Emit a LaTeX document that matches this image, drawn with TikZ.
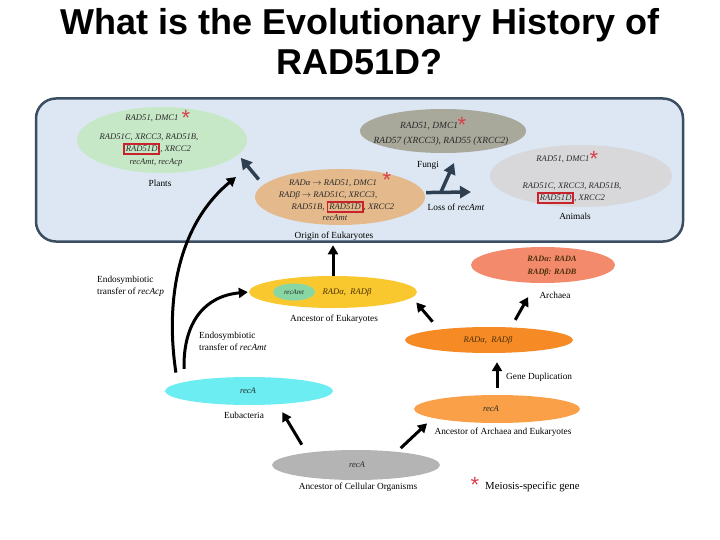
\documentclass[tikz,border=0pt]{standalone}
\usepackage{fontspec}
\setmainfont{Liberation Serif}
\newfontfamily\titlefont{Liberation Sans}
\usetikzlibrary{shapes.geometric,arrows.meta}
\definecolor{boxfill}{HTML}{DCE7F3}
\definecolor{boxline}{HTML}{3B4D61}
\definecolor{plantc}{HTML}{C6E8C6}
\definecolor{fungic}{HTML}{A8A89B}
\definecolor{animc}{HTML}{D8D8DA}
\definecolor{tanc}{HTML}{E4B98C}
\definecolor{yelc}{HTML}{F8C82E}
\definecolor{mintc}{HTML}{88D6A4}
\definecolor{salc}{HTML}{F38A6B}
\definecolor{orc}{HTML}{F68B25}
\definecolor{lorc}{HTML}{F9A048}
\definecolor{cyanc}{HTML}{6CEDF2}
\definecolor{cellc}{HTML}{B4B4B4}
\definecolor{slate}{HTML}{2F3F52}
\definecolor{rboxc}{HTML}{C8232C}
\definecolor{starc}{HTML}{D8404C}
\definecolor{genec}{HTML}{2A2A2A}
\definecolor{brownc}{HTML}{4A300A}
\newcommand\redbox[1]{{\setlength\fboxsep{1pt}\setlength\fboxrule{1.8pt}\color{rboxc}\fbox{\color{genec}#1}}}
\begin{document}
\begin{tikzpicture}[x=1pt,y=-1pt,
  ell/.style={shape=ellipse, inner sep=0pt, draw=none},
  gene/.style={font=\fontsize{8.6}{10}\selectfont\itshape, text=genec, inner sep=0pt},
  lab/.style={font=\fontsize{9.3}{12}\selectfont, text=black, inner sep=0pt},
  star/.style={font=\titlefont\fontsize{22}{22}\selectfont, text=starc, inner sep=0pt},
  arr/.style={draw=black, line width=3pt, -{Triangle[length=9pt,width=10pt]}},
  sarr/.style={draw=slate, line width=3.5pt, -{Triangle[length=11pt,width=12pt]}}]
\useasboundingbox (0,0) rectangle (720,540);
% title
\node[font=\titlefont\bfseries\fontsize{36}{40}\selectfont, align=center, inner sep=0pt] (title) at (360,42) {What is the Evolutionary History of\\RAD51D?};
% blue box
\node[draw=boxline, line width=2.5pt, fill=boxfill, rounded corners=20pt, minimum width=647pt, minimum height=143pt, inner sep=0pt] (box) at (359.5,170) {};
% ellipses
\node[ell, fill=plantc, minimum width=170pt, minimum height=66pt] (plants) at (162,140) {};
\node[ell, fill=fungic, minimum width=166pt, minimum height=44pt] (fungi) at (443,131) {};
\node[ell, fill=animc, minimum width=182pt, minimum height=62pt] (animals) at (581,176) {};
\node[ell, fill=tanc, minimum width=170pt, minimum height=56pt] (euk) at (340,197) {};
\node[ell, fill=yelc, minimum width=168pt, minimum height=32pt] (yellow) at (333,292) {};
\node[ell, fill=mintc, minimum width=42pt, minimum height=17pt] (mint) at (294,292) {};
\node[ell, fill=salc, minimum width=144pt, minimum height=36pt] (archaea) at (543,265) {};
\node[ell, fill=orc, minimum width=168pt, minimum height=26pt] (radab) at (489,340) {};
\node[ell, fill=lorc, minimum width=166pt, minimum height=28pt] (anc) at (497,409) {};
\node[ell, fill=cyanc, minimum width=168pt, minimum height=28pt] (eubac) at (249,391) {};
\node[ell, fill=cellc, minimum width=168pt, minimum height=30pt] (cell) at (356,465) {};
% plants text
\node[gene] (pl1) at (152,118) {RAD51, DMC1};
\node[star] (pls) at (186,118) {*};
\node[gene] (pl2) at (149,137) {RAD51C, XRCC3, RAD51B,};
\node[gene] (pl3) at (157,149) {\redbox{RAD51D}, XRCC2};
\node[gene] (pl4) at (156,163) {recAmt, recAcp};
\node[lab] (pll) at (160,183) {Plants};
% fungi text
\node[gene, font=\fontsize{9.4}{11}\selectfont\itshape] (fu1) at (429,126) {RAD51, DMC1};
\node[star] (fus) at (462,125) {*};
\node[gene, font=\fontsize{9.4}{11}\selectfont\itshape] (fu2) at (441,141) {RAD57 (XRCC3), RAD55 (XRCC2)};
\node[lab] (ful) at (428,165) {Fungi};
% animals text
\node[gene] (an1) at (563,159) {RAD51, DMC1};
\node[star] (ans) at (594,159) {*};
\node[gene] (an2) at (572,186) {RAD51C, XRCC3, RAD51B,};
\node[gene] (an3) at (571,198) {\redbox{RAD51D}, XRCC2};
\node[lab] (anl) at (575,216) {Animals};
% eukaryote origin text
\node[gene] (eu1) at (333,183) {RADα $\rightarrow$ RAD51, DMC1};
\node[star] (eus) at (387,180) {*};
\node[gene] (eu2) at (328,195) {RADβ $\rightarrow$ RAD51C, XRCC3,};
\node[gene] (eu3) at (343,207) {RAD51B, \redbox{RAD51D}, XRCC2};
\node[gene] (eu4) at (335,218) {recAmt};
\node[lab] (eul) at (334,236) {Origin of Eukaryotes};
% ancestor of eukaryotes
\node[gene, font=\fontsize{7}{8}\selectfont\itshape] (mintt) at (294,292) {recAmt};
\node[gene, text=brownc] (yelt) at (347,292) {RADα,\ \ RADβ};
\node[lab] (yell) at (334,319) {Ancestor of Eukaryotes};
% archaea
\node[gene, font=\fontsize{8.2}{10}\selectfont\bfseries\itshape, text=brownc] (ar1) at (552,259) {RADα: RADA};
\node[gene, font=\fontsize{8.2}{10}\selectfont\bfseries\itshape, text=brownc] (ar2) at (552,272) {RADβ: RADB};
\node[lab] (arl) at (555,295) {Archaea};
% RAD alpha beta
\node[gene, text=brownc] (rat) at (488,340) {RADα,\ \ RADβ};
\node[lab, anchor=west] (gd) at (506,377) {Gene Duplication};
% ancestor of archaea and eukaryotes
\node[gene] (anct) at (491,409) {recA};
\node[lab] (ancl) at (503,432) {Ancestor of Archaea and Eukaryotes};
% eubacteria
\node[gene] (eubt) at (248,391) {recA};
\node[lab] (eubl) at (244,415) {Eubacteria};
% cellular ancestor
\node[gene] (cellt) at (357,465) {recA};
\node[lab] (celll) at (358,487) {Ancestor of Cellular Organisms};
% legend
\node[star] (legs) at (475,485) {*};
\node[lab, anchor=west, font=\fontsize{10.8}{12}\selectfont] (legt) at (485,487) {Meiosis-specific gene};
% side labels
\node[lab, anchor=west, align=left] (endo1) at (97,286) {Endosymbiotic\\transfer of \textit{recAcp}};
\node[lab, anchor=west, align=left] (endo2) at (199,341) {Endosymbiotic\\transfer of \textit{recAmt}};
\node[lab] (loss) at (456,207) {Loss of \textit{recAmt}};
% free ends
\coordinate (plantsIn) at (236,177);
\coordinate (lossEnd) at (471,192);
\coordinate (fork) at (441,192);
\coordinate (fungiIn) at (454,163);
% connectors in box
\draw[sarr, shorten <=7pt, shorten >=4pt] (euk.171) -- (plants.-11.2);
\draw[sarr, shorten <=2pt] (euk.3.4) -- (lossEnd);
\draw[sarr] (fork) -- (fungiIn);
% connectors below
\draw[arr, shorten <=11pt] (eubac.174) .. controls (165,300) and (178,225) .. (plantsIn);
\draw[arr, shorten <=13pt, shorten >=1pt] (eubac.172) .. controls (183,322) and (205,296) .. (yellow.west);
\draw[arr, shorten >=2.5pt] (yellow.north) -- (yellow.north |- box.south);
\draw[arr, shorten <=10pt, shorten >=6.5pt] (radab.168) -- (yellow.-4.6);
\draw[arr, shorten <=8.5pt, shorten >=16pt] (radab.30) -- (archaea.-111.5);
\draw[arr, shorten <=7pt, shorten >=9pt] (anc.north) -- (anc.north |- radab.south);
\draw[arr, shorten <=9.3pt, shorten >=9.1pt] (cell.166) -- (eubac.-25);
\draw[arr, shorten <=5.3pt, shorten >=7.8pt] (cell.18.2) -- (anc.-172.7);
\end{tikzpicture}
\end{document}
